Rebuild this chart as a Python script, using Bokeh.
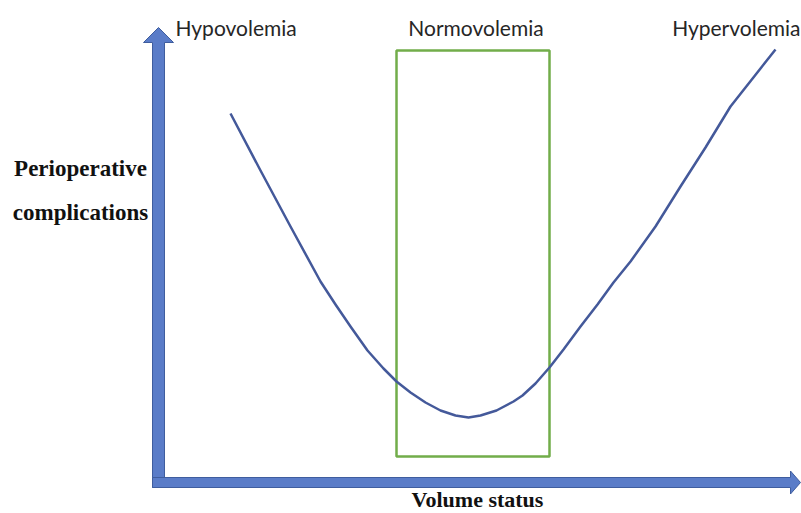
from bokeh.plotting import figure
from bokeh.models import Range1d
from bokeh.core.properties import value
from bokeh.embed import file_html
from bokeh.resources import INLINE

# ---- Data (diagram units, origin at the corner of the two axis arrows) ----
curve_x = [72, 102, 132, 162, 177, 192, 209, 225, 238, 252, 267, 282, 297, 310,
           322, 338, 355, 364, 377, 391, 405, 422, 439, 455, 472, 497, 522, 547,
           572, 587, 602, 617]
curve_y = [369, 312, 256, 201, 178, 156, 132, 114, 101, 90, 80, 72, 67, 65,
           67, 72, 81, 87, 99, 115, 133, 156, 178, 200, 221, 256, 296, 335,
           376, 395, 414, 433]
normo_x = [238, 391]          # left / right of the normovolemia window
normo_y = [26, 432]           # bottom / top of the normovolemia window
zone_labels = ["Hypovolemia", "Normovolemia", "Hypervolemia"]
y_label = ["Perioperative", "complications"]
x_label = "Volume status"

# ---- Figure ----
W, H = 801, 513
p = figure(width=W, height=H, x_range=Range1d(-158, 643), y_range=Range1d(-31, 482),
           output_backend="svg", toolbar_location=None, min_border=0,
           x_axis_type=None, y_axis_type=None)
p.grid.visible = False
p.outline_line_color = None
p.background_fill_color = "white"
p.border_fill_color = "white"

arrow_fill = "#5a7cc8"
arrow_line = "#3f5d9e"

# vertical axis arrow
vtip = 455
sw = 6
vx = [-sw, sw, sw, 15, 0, -15, -sw]
vy = [-5, -5, vtip - 15, vtip - 15, vtip, vtip - 15, vtip - 15]
p.patch(vx, vy, fill_color=arrow_fill, line_color=arrow_line, line_width=1)

# horizontal axis arrow
htip = 642
hx = [-sw, htip - 10, htip - 10, htip, htip - 10, htip - 10, -sw]
hy = [-5, -5, -11.5, 0, 11.5, 5, 5]
p.patch(hx, hy, fill_color=arrow_fill, line_color=arrow_line, line_width=1)

# normovolemia window
p.quad(left=[normo_x[0]], right=[normo_x[1]], bottom=[normo_y[0]], top=[normo_y[1]],
       fill_color=None, line_color="#72ad4a", line_width=2.5)

# U-shaped curve
p.line(curve_x, curve_y, line_color="#44599a", line_width=2.5, line_join="round")

# zone labels
sans = value("Lato")
lab_y = 455
p.text(x=[17], y=[lab_y], text=[zone_labels[0]], text_font=sans, text_font_size="21px",
       text_align="left", text_baseline="alphabetic", text_color="#262626")
p.text(x=[sum(normo_x) / 2 + 3], y=[lab_y], text=[zone_labels[1]], text_font=sans,
       text_font_size="21px", text_align="center", text_baseline="alphabetic",
       text_color="#262626")
p.text(x=[642], y=[lab_y], text=[zone_labels[2]], text_font=sans, text_font_size="21px",
       text_align="right", text_baseline="alphabetic", text_color="#262626")

# axis titles
serif = value("Liberation Serif")
p.text(x=[-78, -78], y=[314, 270], text=y_label, text_font=serif, text_font_size="23px",
       text_font_style="bold", text_align="center", text_baseline="alphabetic",
       text_color="#111111")
p.text(x=[319], y=[-17], text=[x_label], text_font=serif, text_font_size="22px",
       text_font_style="bold", text_align="center", text_baseline="alphabetic",
       text_color="#111111")

open("out.html", "w").write(file_html(p, INLINE))
